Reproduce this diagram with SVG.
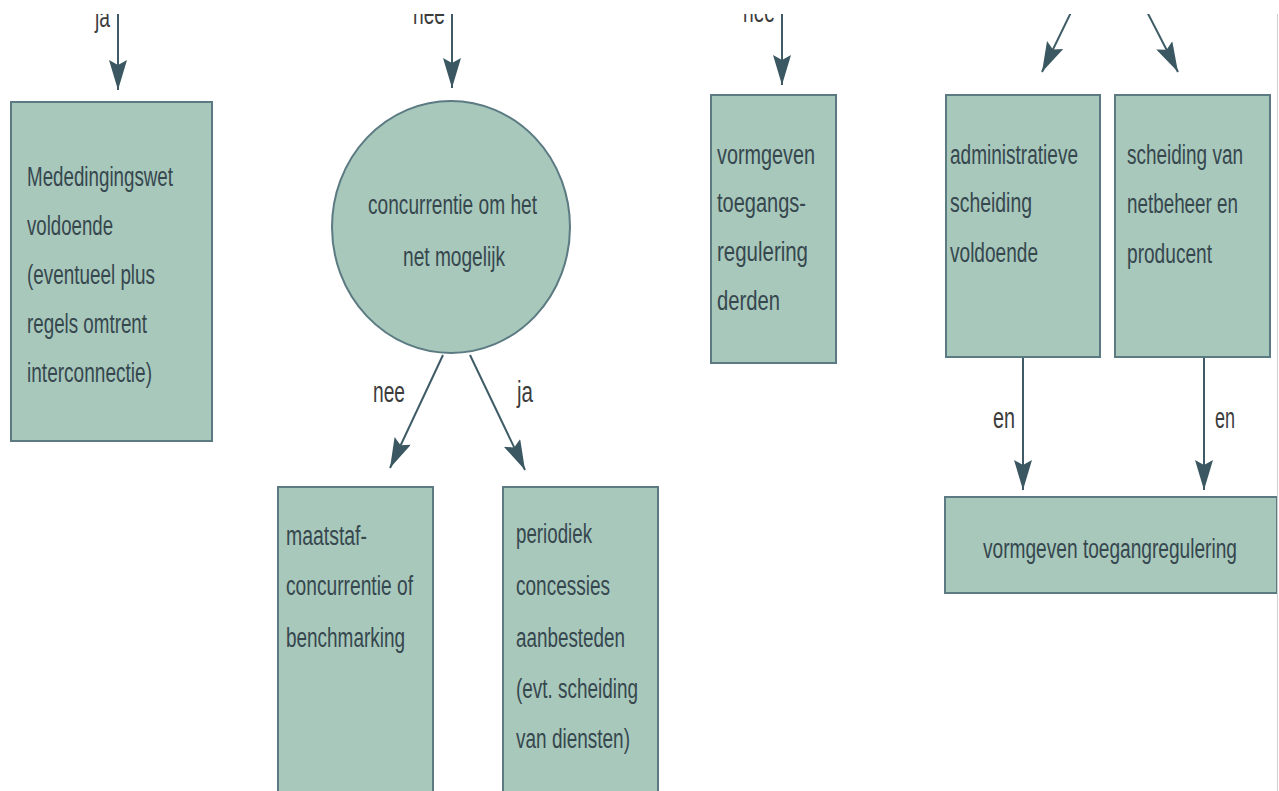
<svg xmlns="http://www.w3.org/2000/svg" width="1279" height="791" viewBox="0 0 1279 791">
<style>
.node{fill:#a8c8bc;stroke:#5b7a82;stroke-width:2}
.t{font-family:"Liberation Sans",Arial,sans-serif;font-size:27px;fill:#36474e}
.lbl{font-family:"Liberation Sans",Arial,sans-serif;font-size:29px;fill:#3c3c3c}
.c{stroke:#3f5c66;stroke-width:2;fill:none;marker-end:url(#ah)}
</style>
<defs>
<marker id="ah" markerUnits="userSpaceOnUse" markerWidth="30" markerHeight="18" refX="30" refY="9" orient="auto" viewBox="0 0 30 18">
<path d="M0,0 L30,9 L0,18 L5,9 Z" fill="#3b5862"/>
</marker>
<clipPath id="frame"><rect x="0" y="14" width="1277" height="777"/></clipPath>
</defs>
<rect width="1279" height="791" fill="#fff"/>
<g clip-path="url(#frame)">
<g id="connectors">
<line class="c" x1="118" y1="0" x2="118" y2="90"/>
<line class="c" x1="452" y1="0" x2="452" y2="88"/>
<line class="c" x1="782" y1="0" x2="782" y2="85"/>
<line class="c" x1="1077" y1="0" x2="1042" y2="72"/>
<line class="c" x1="1141" y1="0" x2="1178" y2="72"/>
<line class="c" x1="443" y1="355" x2="390" y2="468"/>
<line class="c" x1="470" y1="355" x2="525" y2="470"/>
<line class="c" x1="1023" y1="357" x2="1023" y2="490"/>
<line class="c" x1="1204" y1="357" x2="1204" y2="490"/>
<text class="lbl" x="95" y="27" textLength="15" lengthAdjust="spacingAndGlyphs">ja</text>
<text class="lbl" x="413" y="24" textLength="32" lengthAdjust="spacingAndGlyphs">nee</text>
<text class="lbl" x="743" y="22" textLength="32" lengthAdjust="spacingAndGlyphs">nee</text>
<text class="lbl" x="373" y="402" textLength="32" lengthAdjust="spacingAndGlyphs">nee</text>
<text class="lbl" x="517" y="402" textLength="16" lengthAdjust="spacingAndGlyphs">ja</text>
<text class="lbl" x="993" y="428" textLength="22" lengthAdjust="spacingAndGlyphs">en</text>
<text class="lbl" x="1215" y="428" textLength="20" lengthAdjust="spacingAndGlyphs">en</text>
</g>
<g id="n-mededingingswet">
<rect class="node" x="11" y="102" width="201" height="339"/>
<text class="t" x="27" y="186" textLength="146" lengthAdjust="spacingAndGlyphs">Mededingingswet</text>
<text class="t" x="27" y="235" textLength="86" lengthAdjust="spacingAndGlyphs">voldoende</text>
<text class="t" x="27" y="284" textLength="128" lengthAdjust="spacingAndGlyphs">(eventueel plus</text>
<text class="t" x="27" y="333" textLength="120" lengthAdjust="spacingAndGlyphs">regels omtrent</text>
<text class="t" x="27" y="382" textLength="125" lengthAdjust="spacingAndGlyphs">interconnectie)</text>
</g>
<g id="n-concurrentie">
<ellipse class="node" cx="451" cy="227" rx="119" ry="126"/>
<text class="t" x="368" y="214" textLength="169" lengthAdjust="spacingAndGlyphs">concurrentie om het</text>
<text class="t" x="403" y="266" textLength="102" lengthAdjust="spacingAndGlyphs">net mogelijk</text>
</g>
<g id="n-vormgeven-derden">
<rect class="node" x="711" y="95" width="125" height="268"/>
<text class="t" x="717" y="164" textLength="98" lengthAdjust="spacingAndGlyphs">vormgeven</text>
<text class="t" x="717" y="212" textLength="89" lengthAdjust="spacingAndGlyphs">toegangs-</text>
<text class="t" x="717" y="261" textLength="91" lengthAdjust="spacingAndGlyphs">regulering</text>
<text class="t" x="717" y="310" textLength="63" lengthAdjust="spacingAndGlyphs">derden</text>
</g>
<g id="n-administratieve">
<rect class="node" x="946" y="95" width="154" height="262"/>
<text class="t" x="950" y="164" textLength="128" lengthAdjust="spacingAndGlyphs">administratieve</text>
<text class="t" x="950" y="212" textLength="82" lengthAdjust="spacingAndGlyphs">scheiding</text>
<text class="t" x="950" y="262" textLength="88" lengthAdjust="spacingAndGlyphs">voldoende</text>
</g>
<g id="n-scheiding">
<rect class="node" x="1115" y="95" width="155" height="262"/>
<text class="t" x="1127" y="164" textLength="116" lengthAdjust="spacingAndGlyphs">scheiding van</text>
<text class="t" x="1127" y="213" textLength="111" lengthAdjust="spacingAndGlyphs">netbeheer en</text>
<text class="t" x="1127" y="263" textLength="85" lengthAdjust="spacingAndGlyphs">producent</text>
</g>
<g id="n-toegangregulering">
<rect class="node" x="945" y="497" width="332" height="96"/>
<text class="t" x="983" y="558" textLength="254" lengthAdjust="spacingAndGlyphs">vormgeven toegangregulering</text>
</g>
<g id="n-maatstaf">
<rect class="node" x="278" y="487" width="155" height="330"/>
<text class="t" x="286" y="545" textLength="81" lengthAdjust="spacingAndGlyphs">maatstaf-</text>
<text class="t" x="286" y="595" textLength="127" lengthAdjust="spacingAndGlyphs">concurrentie of</text>
<text class="t" x="286" y="647" textLength="119" lengthAdjust="spacingAndGlyphs">benchmarking</text>
</g>
<g id="n-periodiek">
<rect class="node" x="503" y="487" width="155" height="330"/>
<text class="t" x="516" y="543" textLength="76" lengthAdjust="spacingAndGlyphs">periodiek</text>
<text class="t" x="516" y="595" textLength="94" lengthAdjust="spacingAndGlyphs">concessies</text>
<text class="t" x="516" y="647" textLength="109" lengthAdjust="spacingAndGlyphs">aanbesteden</text>
<text class="t" x="516" y="698" textLength="122" lengthAdjust="spacingAndGlyphs">(evt. scheiding</text>
<text class="t" x="516" y="748" textLength="114" lengthAdjust="spacingAndGlyphs">van diensten)</text>
</g>
</g>
<line x1="1277.5" y1="14" x2="1277.5" y2="791" stroke="#cfcfcf" stroke-width="1"/>
</svg>
